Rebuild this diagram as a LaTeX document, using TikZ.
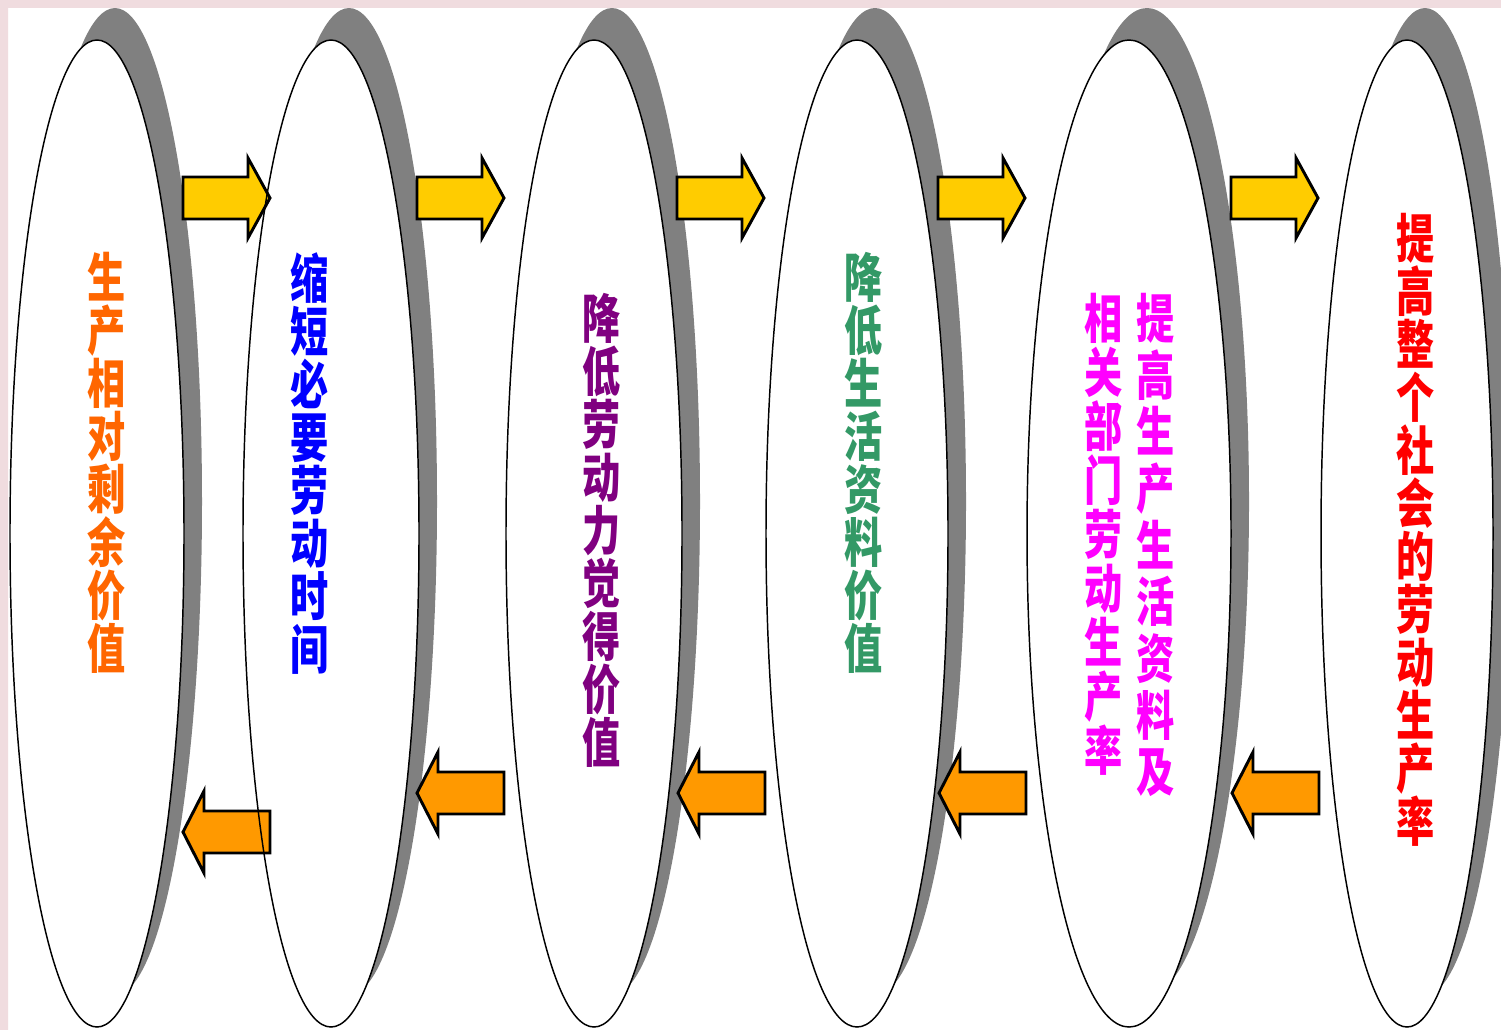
\documentclass[tikz,border=0pt]{standalone}
\usepackage{fontspec}
\usepackage{graphicx}
\newfontfamily\cjk{Noto Sans CJK SC}
\usetikzlibrary{shapes.geometric}
\definecolor{shadowgray}{HTML}{808080}
\definecolor{arrowyellow}{HTML}{FFCC00}
\definecolor{arroworange}{HTML}{FF9900}
\definecolor{pinkband}{HTML}{F0DCDF}
\definecolor{pinklight}{HTML}{FBF3F4}
\definecolor{txtorange}{HTML}{FF6600}
\definecolor{txtblue}{HTML}{0000FF}
\definecolor{txtpurple}{HTML}{800080}
\definecolor{txtgreen}{HTML}{339966}
\definecolor{txtmagenta}{HTML}{FF00FF}
\definecolor{txtred}{HTML}{FF0000}
\newcommand\vcol[2]{\scalebox{0.72}[1]{\vbox{\baselineskip=#1\lineskiplimit=-100pt\lineskip=0pt\halign{\hfil##\hfil\cr#2}}}}
\begin{document}
\begin{tikzpicture}[x=0.75pt,y=-0.75pt,
  ovalline/.style={ellipse,draw=black,line width=1.1pt,inner sep=0pt,fill=none},
  rarrowbox/.style={fill=arrowyellow,draw=black,line width=2.2pt,line join=miter},
  larrowbox/.style={fill=arroworange,draw=black,line width=2.2pt,line join=miter},
  vtxt/.style={inner sep=0pt,anchor=north,font=\cjk\bfseries\fontsize{39.75pt}{39.75pt}\selectfont}]
\useasboundingbox (0,0) rectangle (1501,1029);
\fill[white] (0,0) rectangle (1501,1029);
% ovals: shadow crescents and white faces
\foreach \n/\cx/\a in {1/97/87,2/331/88,3/594/88,4/857/91,5/1129/102,6/1407/86}{
  \coordinate (c\n) at (\cx,533.5);
  \fill[shadowgray] (\cx+18,501.5) ellipse [x radius=\a, y radius=493.5];
  \fill[white] (c\n) ellipse [x radius=\a, y radius=493.5];
}
% borders
\fill[pinkband] (0,0) rectangle (1501,8);
\shade[top color=pinkband,middle color=pinklight,bottom color=pinkband] (0,8) rectangle (8,1029);
% right-pointing arrows (top)
\foreach \xl in {183,417,677,938,1231}{
  \draw[rarrowbox] (\xl,177) -- (\xl+65,177) -- (\xl+65,158) -- (\xl+87,198)
     -- (\xl+65,238) -- (\xl+65,219) -- (\xl,219) -- cycle;
}
% left-pointing arrows (bottom)
\foreach \xt/\yc in {183/832,417/793,678/793,939/793,1232/793}{
  \draw[larrowbox] (\xt,\yc) -- (\xt+21,\yc-41) -- (\xt+21,\yc-21) -- (\xt+87,\yc-21)
     -- (\xt+87,\yc+21) -- (\xt+21,\yc+21) -- (\xt+21,\yc+41) -- cycle;
}
% oval outlines
\foreach \n/\a in {1/87,2/88,3/88,4/91,5/102,6/86}{
  \node[ovalline,minimum width=\a*1.5pt,minimum height=740.25pt] (e\n) at (c\n) {};
}
% texts
\node[vtxt,text=txtorange] (t1) at (107,252) {\vcol{39.75pt}{生\cr 产\cr 相\cr 对\cr 剩\cr 余\cr 价\cr 值\cr}};
\node[vtxt,text=txtblue] (t2) at (310,252) {\vcol{39.75pt}{缩\cr 短\cr 必\cr 要\cr 劳\cr 动\cr 时\cr 间\cr}};
\node[vtxt,text=txtpurple] (t3) at (602,293) {\vcol{39.75pt}{降\cr 低\cr 劳\cr 动\cr 力\cr 觉\cr 得\cr 价\cr 值\cr}};
\node[vtxt,text=txtgreen] (t4) at (864,252) {\vcol{39.75pt}{降\cr 低\cr 生\cr 活\cr 资\cr 料\cr 价\cr 值\cr}};
\node[vtxt,text=txtmagenta] (t5b) at (1156,293) {\vcol{42.5pt}{提\cr 高\cr 生\cr 产\cr 生\cr 活\cr 资\cr 料\cr 及\cr}};
\node[vtxt,text=txtmagenta] (t5a) at (1104,293) {\vcol{40.5pt}{相\cr 关\cr 部\cr 门\cr 劳\cr 动\cr 生\cr 产\cr 率\cr}};
\node[vtxt,text=txtred] (t6) at (1416,213) {\vcol{39.75pt}{提\cr 高\cr 整\cr 个\cr 社\cr 会\cr 的\cr 劳\cr 动\cr 生\cr 产\cr 率\cr}};
\end{tikzpicture}
\end{document}
